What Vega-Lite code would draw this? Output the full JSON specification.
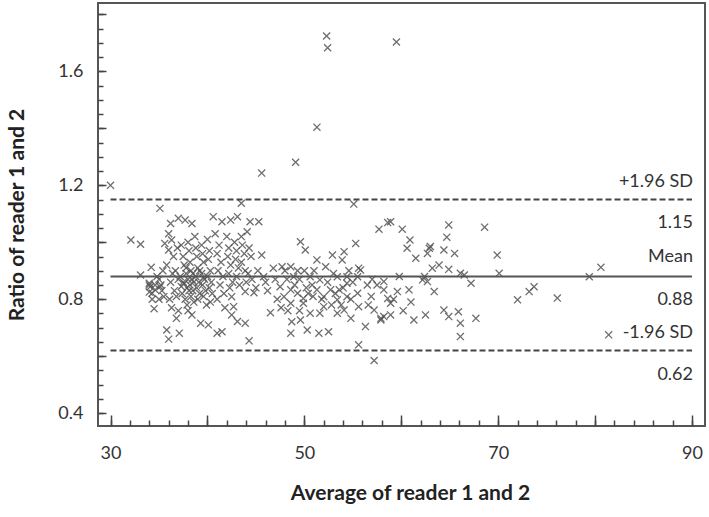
{
  "$schema": "https://vega.github.io/schema/vega-lite/v6.json",
  "width": 607,
  "height": 423,
  "autosize": "none",
  "padding": {"left": 98, "top": 3, "right": 4, "bottom": 91},
  "background": "white",
  "config": {
    "view": {"stroke": "#555", "strokeWidth": 2},
    "font": "Lato",
    "axis": {"labelFont": "Lato", "titleFont": "Lato", "labelColor": "#333", "titleColor": "#222", "labelFontSize": 18, "titleFontSize": 21, "titleFontWeight": "bold", "grid": false, "domain": false, "ticks": true, "tickColor": "#444", "tickWidth": 1.5, "tickOpacity": 1, "zindex": 2}
  },
  "resolve": {"axis": {"x": "independent", "y": "independent"}},
  "datasets": {
    "pts": [
      {"x":30.0,"y":1.20},{"x":52.3,"y":1.724},{"x":52.4,"y":1.683},{"x":59.5,"y":1.703},{"x":51.3,"y":1.404},{"x":49.1,"y":1.281},{"x":45.6,"y":1.243},{"x":35.1,"y":1.119},{"x":43.5,"y":1.137},{"x":55.1,"y":1.134},
      {"x":32.1,"y":1.008},{"x":33.1,"y":0.993},{"x":33.1,"y":0.885},{"x":34.2,"y":0.912},{"x":34.1,"y":0.844},{"x":34.3,"y":0.821},{"x":35.1,"y":0.844},{"x":35.5,"y":0.809},{"x":34.5,"y":0.767},{"x":34.6,"y":0.833},{"x":34.0,"y":0.856},{"x":35.0,"y":0.870},{"x":35.3,"y":0.830},{"x":34.8,"y":0.880},{"x":35.4,"y":0.900},{"x":34.0,"y":0.85},{"x":34.6,"y":0.85},{"x":35.2,"y":0.85},{"x":34.3,"y":0.80},{"x":35.0,"y":0.80},{"x":34.0,"y":0.825},
      {"x":35.8,"y":0.692},{"x":36.0,"y":0.660},{"x":37.1,"y":0.681},{"x":36.8,"y":0.733},{"x":35.8,"y":0.920},{"x":36.0,"y":0.973},{"x":35.6,"y":0.996},{"x":36.3,"y":1.008},{"x":36.2,"y":1.066},{"x":37.0,"y":1.084},{"x":37.7,"y":1.078},{"x":38.4,"y":1.066},{"x":36.0,"y":1.03},{"x":36.5,"y":0.95},{"x":36.2,"y":0.86},{"x":36.6,"y":0.83},{"x":36.1,"y":0.80},{"x":36.7,"y":0.90},{"x":36.9,"y":0.98},{"x":37.0,"y":0.87},{"x":36.4,"y":0.89},{"x":36.8,"y":0.81},{"x":36.3,"y":0.77},{"x":37.0,"y":0.76},
      {"x":37.3,"y":0.99},{"x":37.5,"y":0.95},{"x":37.6,"y":0.92},{"x":37.8,"y":0.89},{"x":37.5,"y":0.86},{"x":37.9,"y":0.84},{"x":37.4,"y":0.82},{"x":37.7,"y":0.80},{"x":37.9,"y":0.78},{"x":38.0,"y":1.00},{"x":38.1,"y":0.97},{"x":38.2,"y":0.93},{"x":38.3,"y":0.90},{"x":38.4,"y":0.87},{"x":38.2,"y":0.85},{"x":38.5,"y":0.83},{"x":38.3,"y":0.81},{"x":38.6,"y":0.79},{"x":38.0,"y":0.76},{"x":38.4,"y":0.745},{"x":38.7,"y":1.02},{"x":38.8,"y":0.98},{"x":38.9,"y":0.95},{"x":39.0,"y":0.91},{"x":38.8,"y":0.88},{"x":39.1,"y":0.86},{"x":38.9,"y":0.84},{"x":39.2,"y":0.82},{"x":39.0,"y":0.80},{"x":39.3,"y":0.716},{"x":39.4,"y":0.99},{"x":39.5,"y":0.96},{"x":39.6,"y":0.93},{"x":39.4,"y":0.89},{"x":39.7,"y":0.87},{"x":39.5,"y":0.85},{"x":39.8,"y":0.83},{"x":39.6,"y":0.81},{"x":39.9,"y":0.78},{"x":40.1,"y":0.710},{"x":40.0,"y":1.01},{"x":40.2,"y":0.97},{"x":40.1,"y":0.94},{"x":40.3,"y":0.90},{"x":40.0,"y":0.88},{"x":40.4,"y":0.86},{"x":40.2,"y":0.84},{"x":40.5,"y":0.82},{"x":40.3,"y":0.79},{"x":37.2,"y":0.88},{"x":37.6,"y":0.855},{"x":38.0,"y":0.87},{"x":38.6,"y":0.86},{"x":37.8,"y":0.91},{"x":38.5,"y":0.89},{"x":39.2,"y":0.90},{"x":38.1,"y":0.83},{"x":37.3,"y":0.845},{"x":39.6,"y":0.875},
      {"x":40.6,"y":1.09},{"x":41.5,"y":1.072},{"x":42.4,"y":1.078},{"x":43.1,"y":1.09},{"x":41.0,"y":0.681},{"x":41.5,"y":0.686},{"x":42.5,"y":0.745},{"x":43.1,"y":0.722},{"x":43.9,"y":0.716},{"x":44.3,"y":0.654},{"x":43.9,"y":0.827},{"x":44.8,"y":0.823},{"x":42.5,"y":0.809},{"x":42.7,"y":0.774},{"x":40.8,"y":1.03},{"x":41.2,"y":0.99},{"x":41.0,"y":0.96},{"x":41.4,"y":0.93},{"x":41.1,"y":0.90},{"x":41.6,"y":0.88},{"x":41.3,"y":0.85},{"x":41.7,"y":0.82},{"x":41.0,"y":0.80},{"x":41.8,"y":0.77},{"x":42.0,"y":1.02},{"x":42.2,"y":0.98},{"x":42.1,"y":0.95},{"x":42.4,"y":0.92},{"x":42.2,"y":0.89},{"x":42.6,"y":0.86},{"x":42.3,"y":0.84},{"x":42.8,"y":1.00},{"x":43.0,"y":0.97},{"x":42.9,"y":0.94},{"x":43.2,"y":0.91},{"x":43.0,"y":0.88},{"x":43.3,"y":0.85},{"x":43.5,"y":1.02},{"x":43.6,"y":0.99},{"x":43.8,"y":0.96},{"x":43.5,"y":0.93},{"x":43.9,"y":0.90},{"x":44.1,"y":1.037},{"x":44.4,"y":1.072},{"x":45.3,"y":1.072},{"x":44.3,"y":0.98},{"x":44.5,"y":0.95},{"x":44.2,"y":0.89},{"x":44.6,"y":0.87},{"x":44.0,"y":0.86},
      {"x":45.6,"y":0.955},{"x":45.8,"y":0.879},{"x":46.5,"y":0.753},{"x":46.8,"y":0.909},{"x":47.7,"y":0.914},{"x":47.5,"y":0.844},{"x":47.9,"y":0.809},{"x":48.6,"y":0.833},{"x":49.3,"y":0.821},{"x":49.9,"y":0.803},{"x":49.9,"y":0.786},{"x":48.6,"y":0.914},{"x":48.9,"y":0.879},{"x":48.6,"y":0.786},{"x":48.7,"y":0.721},{"x":48.6,"y":0.681},{"x":49.6,"y":0.727},{"x":50.3,"y":0.692},{"x":49.6,"y":1.002},{"x":50.1,"y":0.973},{"x":46.2,"y":0.83},{"x":46.0,"y":0.86},{"x":47.0,"y":0.87},{"x":47.2,"y":0.80},{"x":45.2,"y":0.90},{"x":45.0,"y":0.84},{"x":48.2,"y":0.87},{"x":48.0,"y":0.90},{"x":49.0,"y":0.85},{"x":49.5,"y":0.87},{"x":50.0,"y":0.90},{"x":49.3,"y":0.90},{"x":50.2,"y":0.84},{"x":50.4,"y":0.82},{"x":48.3,"y":0.76},{"x":49.5,"y":0.76},{"x":47.6,"y":0.77},
      {"x":50.6,"y":0.751},{"x":51.6,"y":0.751},{"x":52.0,"y":0.774},{"x":50.6,"y":0.879},{"x":51.6,"y":0.868},{"x":52.2,"y":0.914},{"x":51.3,"y":0.833},{"x":52.0,"y":0.809},{"x":52.7,"y":0.833},{"x":51.5,"y":0.681},{"x":52.5,"y":0.686},{"x":53.4,"y":0.751},{"x":54.1,"y":0.762},{"x":54.8,"y":0.733},{"x":53.4,"y":0.798},{"x":54.4,"y":0.809},{"x":53.6,"y":0.833},{"x":54.4,"y":0.856},{"x":55.5,"y":0.821},{"x":55.6,"y":0.774},{"x":55.5,"y":0.879},{"x":55.6,"y":0.909},{"x":56.3,"y":0.704},{"x":55.6,"y":0.640},{"x":57.2,"y":0.585},{"x":52.9,"y":0.955},{"x":54.1,"y":0.967},{"x":53.9,"y":0.938},{"x":51.3,"y":0.938},{"x":55.3,"y":0.996},{"x":54.4,"y":0.879},{"x":53.4,"y":0.879},{"x":55.8,"y":0.903},{"x":51.0,"y":0.90},{"x":50.8,"y":0.85},{"x":51.8,"y":0.80},{"x":52.4,"y":0.86},{"x":53.0,"y":0.89},{"x":53.2,"y":0.82},{"x":54.0,"y":0.84},{"x":54.8,"y":0.80},{"x":55.0,"y":0.86},{"x":54.6,"y":0.90},{"x":52.8,"y":0.78},{"x":53.8,"y":0.78},{"x":50.9,"y":0.81},
      {"x":57.2,"y":0.762},{"x":57.9,"y":0.733},{"x":56.5,"y":0.850},{"x":57.5,"y":0.850},{"x":58.2,"y":0.833},{"x":58.6,"y":0.803},{"x":57.7,"y":1.046},{"x":58.6,"y":1.069},{"x":58.9,"y":1.072},{"x":60.1,"y":1.046},{"x":58.2,"y":0.862},{"x":58.9,"y":0.786},{"x":59.6,"y":0.827},{"x":60.8,"y":0.833},{"x":58.9,"y":0.745},{"x":58.2,"y":0.739},{"x":57.9,"y":0.727},{"x":56.9,"y":0.81},{"x":56.6,"y":0.78},{"x":57.0,"y":0.87},{"x":59.2,"y":0.80},{"x":59.8,"y":0.88},
      {"x":60.9,"y":1.008},{"x":60.6,"y":0.979},{"x":61.5,"y":0.944},{"x":62.9,"y":0.979},{"x":62.7,"y":0.961},{"x":63.0,"y":0.985},{"x":64.4,"y":0.973},{"x":65.5,"y":0.961},{"x":64.9,"y":1.061},{"x":64.7,"y":1.018},{"x":68.6,"y":1.053},{"x":69.9,"y":0.955},{"x":63.2,"y":0.909},{"x":63.9,"y":0.920},{"x":64.9,"y":0.905},{"x":66.1,"y":0.891},{"x":66.5,"y":0.885},{"x":70.1,"y":0.891},{"x":62.2,"y":0.868},{"x":62.7,"y":0.862},{"x":62.4,"y":0.880},{"x":63.4,"y":0.827},{"x":67.2,"y":0.856},{"x":61.3,"y":0.727},{"x":62.5,"y":0.745},{"x":64.4,"y":0.762},{"x":64.9,"y":0.739},{"x":65.9,"y":0.756},{"x":66.1,"y":0.716},{"x":67.7,"y":0.733},{"x":66.1,"y":0.669},{"x":61.0,"y":0.79},{"x":60.2,"y":0.76},
      {"x":72.0,"y":0.798},{"x":73.2,"y":0.827},{"x":73.7,"y":0.844},{"x":76.1,"y":0.804},{"x":79.4,"y":0.879},{"x":80.6,"y":0.912},{"x":81.4,"y":0.675}
    ],
    "lines": [
      {"kind": "upper", "y": 1.15, "x1": 30, "x2": 90},
      {"kind": "lower", "y": 0.62, "x1": 30, "x2": 90},
      {"kind": "mean", "y": 0.88, "x1": 30, "x2": 90}
    ],
    "labels": [
      {"text": "+1.96 SD", "x": 90.1, "y": 1.212},
      {"text": "1.15", "x": 90.1, "y": 1.068},
      {"text": "Mean", "x": 90.1, "y": 0.948},
      {"text": "0.88", "x": 90.1, "y": 0.798},
      {"text": "-1.96 SD", "x": 90.1, "y": 0.682},
      {"text": "0.62", "x": 90.1, "y": 0.535}
    ]
  },
  "layer": [
    {
      "data": {"name": "pts"},
      "mark": {"type": "point", "shape": "M-1,-1L1,1M1,-1L-1,1", "size": 50, "filled": false, "stroke": "#555", "strokeWidth": 1.3, "opacity": 0.85},
      "encoding": {
        "x": {"field": "x", "type": "quantitative", "scale": {"domain": [28.71, 91.34], "nice": false, "zero": false},
          "axis": {"orient": "bottom", "title": "Average of reader 1 and 2", "titleX": 312, "values": [30,32,34,36,38,40,42,44,46,48,50,52,54,56,58,60,62,64,66,68,70,72,74,76,78,80,82,84,86,88,90],
            "labelExpr": "datum.value % 20 == 10 ? datum.value : ''", "tickSize": 6, "offset": -6, "labelPadding": 18, "titlePadding": 20}},
        "y": {"field": "y", "type": "quantitative", "scale": {"domain": [0.355, 1.84], "nice": false, "zero": false},
          "axis": {"orient": "left", "title": "Ratio of reader 1 and 2", "values": [0.4,0.45,0.5,0.55,0.6,0.65,0.7,0.75,0.8,0.85,0.9,0.95,1.0,1.05,1.1,1.15,1.2,1.25,1.3,1.35,1.4,1.45,1.5,1.55,1.6,1.65,1.7,1.75,1.8],
            "labelExpr": "round(datum.value*100) % 40 == 0 ? format(datum.value, '.1f') : ''", "tickSize": 5, "offset": -5, "labelPadding": 15, "titlePadding": 30}}
      }
    },
    {
      "data": {"name": "lines"},
      "transform": [{"filter": "datum.kind != 'mean'"}],
      "mark": {"type": "rule", "stroke": "#444", "strokeWidth": 2, "strokeDash": [6, 3]},
      "encoding": {
        "x": {"field": "x1", "type": "quantitative", "axis": {"orient": "bottom", "title": null, "labels": false, "values": [30,40,50,60,70,80,90], "tickSize": 11, "offset": -11}},
        "x2": {"field": "x2"},
        "y": {"field": "y", "type": "quantitative", "axis": {"orient": "left", "title": null, "labels": false, "values": [0.4,0.6,0.8,1.0,1.2,1.4,1.6,1.8], "tickSize": 8, "offset": -8}}
      }
    },
    {
      "data": {"name": "lines"},
      "transform": [{"filter": "datum.kind == 'mean'"}],
      "mark": {"type": "rule", "stroke": "#555", "strokeWidth": 2},
      "encoding": {
        "x": {"field": "x1", "type": "quantitative", "axis": null},
        "x2": {"field": "x2"},
        "y": {"field": "y", "type": "quantitative", "axis": null}
      }
    },
    {
      "data": {"name": "labels"},
      "mark": {"type": "text", "align": "right", "baseline": "middle", "fontSize": 18, "font": "Lato", "color": "#333"},
      "encoding": {
        "x": {"field": "x", "type": "quantitative", "axis": null},
        "y": {"field": "y", "type": "quantitative", "axis": null},
        "text": {"field": "text"}
      }
    }
  ]
}
